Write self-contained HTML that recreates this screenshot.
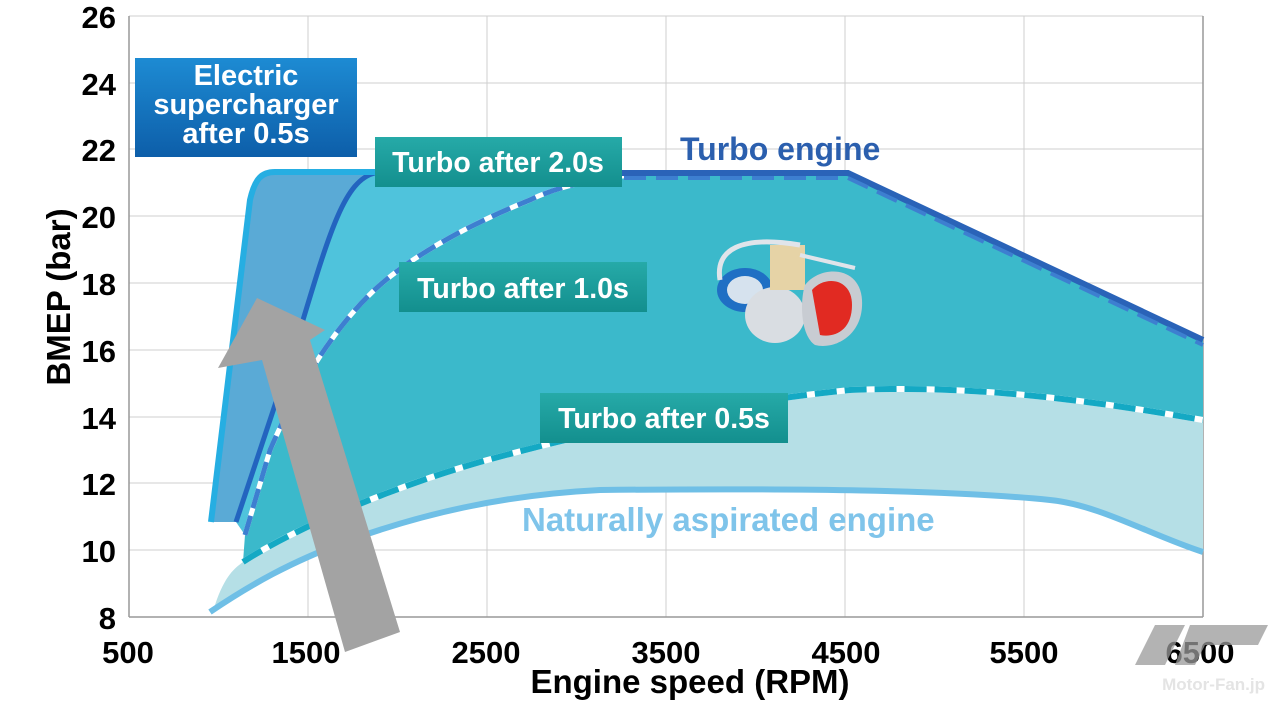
<!DOCTYPE html>
<html><head><meta charset="utf-8"><style>
html,body{margin:0;padding:0;background:#fff;}
svg{display:block;font-family:"Liberation Sans",Arial,sans-serif;font-weight:bold;}
</style></head><body>
<svg width="1279" height="702" viewBox="0 0 1279 702" xmlns="http://www.w3.org/2000/svg">
<defs>
<linearGradient id="gb" x1="0" y1="0" x2="0" y2="1"><stop offset="0" stop-color="#1d8bd3"/><stop offset="1" stop-color="#0d5ea9"/></linearGradient>
<linearGradient id="gt" x1="0" y1="0" x2="0" y2="1"><stop offset="0" stop-color="#26aaa8"/><stop offset="1" stop-color="#138f8e"/></linearGradient>
</defs>
<rect width="1279" height="702" fill="#fff"/>
<g stroke="#cfcfcf" stroke-width="1">
<line x1="129" y1="550" x2="1203" y2="550"/><line x1="129" y1="483" x2="1203" y2="483"/><line x1="129" y1="417" x2="1203" y2="417"/><line x1="129" y1="350" x2="1203" y2="350"/><line x1="129" y1="283" x2="1203" y2="283"/><line x1="129" y1="216" x2="1203" y2="216"/><line x1="129" y1="149" x2="1203" y2="149"/><line x1="129" y1="83" x2="1203" y2="83"/><line x1="129" y1="16" x2="1203" y2="16"/>
<line x1="308" y1="16" x2="308" y2="617"/><line x1="487" y1="16" x2="487" y2="617"/><line x1="666" y1="16" x2="666" y2="617"/><line x1="845" y1="16" x2="845" y2="617"/><line x1="1024" y1="16" x2="1024" y2="617"/>
</g>
<line x1="129" y1="16" x2="129" y2="617" stroke="#999" stroke-width="1.5"/>
<line x1="1203" y1="16" x2="1203" y2="617" stroke="#999" stroke-width="1.5"/>
<line x1="129" y1="617" x2="1203" y2="617" stroke="#999" stroke-width="1.5"/>

<path d="M215,605 C225,575 235,568 243,562 C300,525 400,485 480,462 C560,440 700,405 850,390 C950,386 1050,393 1203,420 L1203,552 C1150,535 1100,505 1050,500 C950,490 800,488 600,490 C500,495 420,515 350,540 C290,562 250,585 210,612 Z" fill="#b5dfe6"/>
<path d="M211,522 L250,200 C255,178 262,172 275,172 L375,172 C345,180 330,230 300,330 L236,522 Z" fill="#5aaad6"/>
<path d="M236,522 L300,330 C330,230 345,180 375,172 L640,172 C600,178 560,185 530,200 C480,220 420,250 380,285 C340,320 300,380 270,450 L245,535 Z" fill="#4fc3dc"/>
<path d="M243,562 L245,535 L270,450 C300,380 340,320 380,285 C420,250 480,220 530,200 C560,185 600,178 640,172 L848,172 L1203,340 L1203,420 C1050,393 950,386 850,390 C700,405 560,440 480,462 C400,485 300,525 243,562 Z" fill="#3bb9cb"/>

<path d="M210,612 C250,585 290,562 350,540 C420,515 500,495 600,490 C800,488 950,490 1050,500 C1100,505 1150,535 1203,552" fill="none" stroke="#6fbfe6" stroke-width="6"/>
<path d="M243,562 C300,525 400,485 480,462 C560,440 700,405 850,390 C950,386 1050,393 1203,420" fill="none" stroke="#ffffff" stroke-width="6"/>
<path d="M243,562 C300,525 400,485 480,462 C560,440 700,405 850,390 C950,386 1050,393 1203,420" fill="none" stroke="#14a9c4" stroke-width="6" stroke-dasharray="22,8"/>
<path d="M245,535 L270,450 C300,380 340,320 380,285 C420,250 480,220 530,200 C560,185 600,178 640,174" fill="none" stroke="#ffffff" stroke-width="5"/>
<path d="M245,535 L270,450 C300,380 340,320 380,285 C420,250 480,220 530,200 C560,185 600,178 640,174" fill="none" stroke="#3d7fd0" stroke-width="5" stroke-dasharray="20,8"/>
<path d="M236,522 L300,330 C330,230 345,180 375,173" fill="none" stroke="#2364bf" stroke-width="5"/>
<path d="M211,522 L250,200 C255,178 262,172 275,172 L375,172" fill="none" stroke="#26aee2" stroke-width="6"/>
<path d="M375,173 L848,173 L1203,340" fill="none" stroke="#2a63b8" stroke-width="6"/>
<path d="M560,178 L848,178 L1203,345" fill="none" stroke="#3d7fd0" stroke-width="4" stroke-dasharray="22,10"/>

<polygon points="345,652 400,632 310,340 325,330 257,298 218,368 262,360" fill="#a3a3a3"/>

<g>
<ellipse cx="745" cy="290" rx="28" ry="22" fill="#1f6fc4"/>
<ellipse cx="745" cy="290" rx="18" ry="14" fill="#d6e2ee"/>
<ellipse cx="775" cy="315" rx="30" ry="28" fill="#d9dde2"/>
<rect x="770" y="245" width="35" height="45" fill="#e6d3a6"/>
<path d="M720,280 C715,250 740,235 800,245" fill="none" stroke="#e0e4ea" stroke-width="5"/>
<line x1="800" y1="255" x2="855" y2="268" stroke="#e0e4ea" stroke-width="4"/>
<path d="M805,285 C820,265 860,265 862,300 C864,335 835,350 815,345 C800,335 800,300 805,285 Z" fill="#c8ccd2"/>
<path d="M812,290 C825,275 852,278 852,305 C852,330 835,338 820,335 Z" fill="#e12a22"/>
</g>

<rect x="135" y="58" width="222" height="99" fill="url(#gb)"/>
<g fill="#fff" font-size="29" text-anchor="middle">
<text x="246" y="85">Electric</text>
<text x="246" y="114">supercharger</text>
<text x="246" y="143">after 0.5s</text>
</g>
<rect x="375" y="137" width="247" height="50" fill="url(#gt)"/>
<text x="498" y="172" fill="#fff" font-size="28.5" text-anchor="middle">Turbo after 2.0s</text>
<rect x="399" y="262" width="248" height="50" fill="url(#gt)"/>
<text x="523" y="298" fill="#fff" font-size="28.5" text-anchor="middle">Turbo after 1.0s</text>
<rect x="540" y="393" width="248" height="50" fill="url(#gt)"/>
<text x="664" y="428" fill="#fff" font-size="28.5" text-anchor="middle">Turbo after 0.5s</text>

<text x="680" y="160" fill="#2b5fae" font-size="32">Turbo engine</text>
<text x="522" y="531" fill="#7fc4ea" font-size="33">Naturally aspirated engine</text>

<g font-size="31" fill="#000" text-anchor="end">
<text x="116" y="629">8</text><text x="116" y="562">10</text><text x="116" y="495">12</text><text x="116" y="429">14</text><text x="116" y="362">16</text><text x="116" y="295">18</text><text x="116" y="228">20</text><text x="116" y="161">22</text><text x="116" y="95">24</text><text x="116" y="28">26</text>
</g>
<g font-size="31" fill="#000" text-anchor="middle">
<text x="128" y="663">500</text><text x="306" y="663">1500</text><text x="486" y="663">2500</text><text x="666" y="663">3500</text><text x="846" y="663">4500</text><text x="1024" y="663">5500</text><text x="1200" y="663">6500</text>
</g>
<text x="690" y="693" font-size="33" text-anchor="middle" fill="#000">Engine speed (RPM)</text>
<text transform="translate(70,297) rotate(-90)" font-size="33" text-anchor="middle" fill="#000">BMEP (bar)</text>

<g fill="#9a9a9a" opacity="0.75">
<polygon points="1155,625 1185,625 1165,665 1135,665"/>
<polygon points="1190,625 1268,625 1258,645 1205,645 1195,665 1175,665"/>
</g>
<text x="1265" y="690" font-size="17" fill="#e4e4e4" text-anchor="end">Motor-Fan.jp</text>
</svg>
</body></html>
